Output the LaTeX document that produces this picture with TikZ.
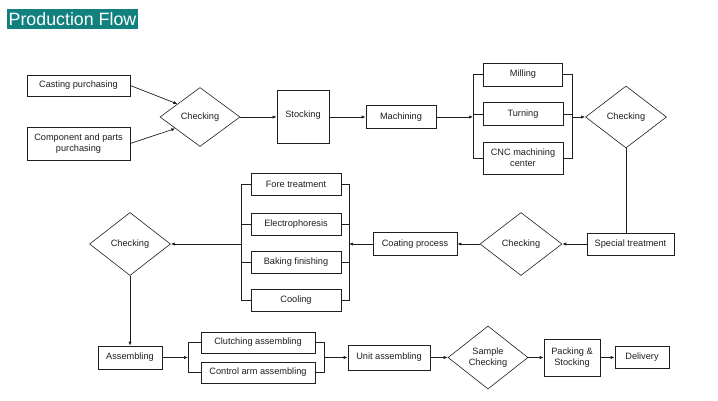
\documentclass[tikz,border=0pt]{standalone}
\usepackage{fontspec}
\setmainfont{Liberation Sans}
\usetikzlibrary{shapes.geometric,arrows.meta,calc}
\definecolor{titleteal}{RGB}{19,128,128}
\definecolor{ink}{RGB}{30,30,30}
\begin{document}
\begin{tikzpicture}[x=1pt,y=-1pt,
  box/.style={draw=ink, line width=0.6pt, inner sep=1pt, align=center, text=ink,
    font=\fontsize{9.2}{10.8}\selectfont},
  dia/.style={diamond, draw=ink, line width=0.6pt, inner sep=0pt, align=center, text=ink,
    font=\fontsize{9.2}{10.8}\selectfont},
  arr/.style={draw=ink, line width=0.7pt, -{Latex[length=4pt,width=3.2pt]}},
  ln/.style={draw=ink, line width=0.7pt},
]
\useasboundingbox (0,0) rectangle (718,400);
\fill[white] (0,0) rectangle (718,400);

% title
\node[fill=titleteal, text=white, inner sep=0pt, minimum width=131pt, minimum height=20pt,
  font=\fontsize{17.8}{20}\selectfont] (title) at (72.5,19) {Production Flow};

% row 1
\node[box, minimum width=103pt, minimum height=21pt] (cast) at (78.5,85.5) {Casting purchasing};
\node[box, minimum width=103pt, minimum height=33pt] (comp) at (78.5,143.5) {Component and parts\\purchasing};
\node[dia, minimum width=80pt, minimum height=59pt] (chk1) at (200,117) {Checking};
\node[box, minimum width=52pt, minimum height=53pt] (stock) at (303,117) {\raisebox{6pt}{Stocking}};
\node[box, minimum width=70pt, minimum height=23pt] (mach) at (401,117) {Machining};
\node[box, minimum width=79pt, minimum height=23pt] (mill) at (523,74.5) {Milling};
\node[box, minimum width=80pt, minimum height=23pt] (turn) at (523,114) {Turning};
\node[box, minimum width=80pt, minimum height=32pt] (cnc) at (523,158) {CNC machining\\center};
\node[dia, minimum width=81pt, minimum height=62pt] (chk2) at (626,117) {Checking};

% row 2
\node[box, minimum width=87pt, minimum height=22pt] (spec) at (630.5,244) {Special treatment};
\node[dia, minimum width=82pt, minimum height=63pt] (chk3) at (521,244) {Checking};
\node[box, minimum width=84pt, minimum height=23pt] (coat) at (415,244) {Coating process};
\node[box, minimum width=90pt, minimum height=22pt] (fore) at (296,184) {Fore treatment};
\node[box, minimum width=90pt, minimum height=22pt] (elec) at (296,224) {Electrophoresis};
\node[box, minimum width=90pt, minimum height=22pt] (bake) at (296,262.5) {Baking finishing};
\node[box, minimum width=90pt, minimum height=22pt] (cool) at (296,300.5) {Cooling};
\node[dia, minimum width=81pt, minimum height=63pt] (chk4) at (130,244) {Checking};

% row 3
\node[box, minimum width=64pt, minimum height=23pt] (asm) at (130,357.5) {Assembling};
\node[box, minimum width=114pt, minimum height=21pt] (clutch) at (258,342.5) {Clutching assembling};
\node[box, minimum width=114pt, minimum height=21pt] (ctrl) at (258,372.5) {Control arm assembling};
\node[box, minimum width=82pt, minimum height=25pt] (unit) at (389,357.5) {Unit assembling};
\node[dia, minimum width=80pt, minimum height=63pt] (samp) at (488,357.5) {Sample\\Checking};
\node[box, minimum width=56pt, minimum height=37pt] (pack) at (572,357.5) {Packing \&\\Stocking};
\node[box, minimum width=54pt, minimum height=22pt] (deliv) at (642,357.5) {Delivery};

% bracket points
\coordinate (mL) at (473,117);
\coordinate (mR) at (572,117);
\coordinate (cL) at (241,244);
\coordinate (cR) at (349,244);
\coordinate (aL) at (188,357.5);
\coordinate (aR) at (324,357.5);

% row 1 connectors
\draw[arr] (cast.east) -- (chk1.150);
\draw[arr] (comp.east) -- (chk1.205);
\draw[arr] (chk1.east) -- (stock.west);
\draw[arr] (stock.east) -- (mach.west);
\draw[arr] (mach.east) -- (mL);
\draw[ln] (mill.west) -- (mill.west -| mL) -- (cnc.west -| mL) -- (cnc.west);
\draw[ln] (turn.west) -- (turn.west -| mL);
\draw[ln] (mill.east) -- (mill.east -| mR) -- (cnc.east -| mR) -- (cnc.east);
\draw[ln] (turn.east) -- (turn.east -| mR);
\draw[arr] (mR) -- (chk2.west);

% row 2 connectors
\draw[ln] (chk2.south) -- (chk2.south |- spec.north);
\draw[arr] (spec.west) -- (chk3.east);
\draw[arr] (chk3.west) -- (coat.east);
\draw[arr] (coat.west) -- (cR);
\draw[ln] (fore.west) -- (fore.west -| cL) -- (cool.west -| cL) -- (cool.west);
\draw[ln] (elec.west) -- (elec.west -| cL);
\draw[ln] (bake.west) -- (bake.west -| cL);
\draw[ln] (fore.east) -- (fore.east -| cR) -- (cool.east -| cR) -- (cool.east);
\draw[ln] (elec.east) -- (elec.east -| cR);
\draw[ln] (bake.east) -- (bake.east -| cR);
\draw[arr] (cL) -- (chk4.east);

% row 3 connectors
\draw[arr] (chk4.south) -- (asm.north);
\draw[arr] (asm.east) -- (aL);
\draw[ln] (clutch.west) -- (clutch.west -| aL) -- (ctrl.west -| aL) -- (ctrl.west);
\draw[ln] (clutch.east) -- (clutch.east -| aR) -- (ctrl.east -| aR) -- (ctrl.east);
\draw[arr] (aR) -- (unit.west);
\draw[arr] (unit.east) -- (samp.west);
\draw[arr] (samp.east) -- (pack.west);
\draw[arr] (pack.east) -- (deliv.west);
\end{tikzpicture}
\end{document}
